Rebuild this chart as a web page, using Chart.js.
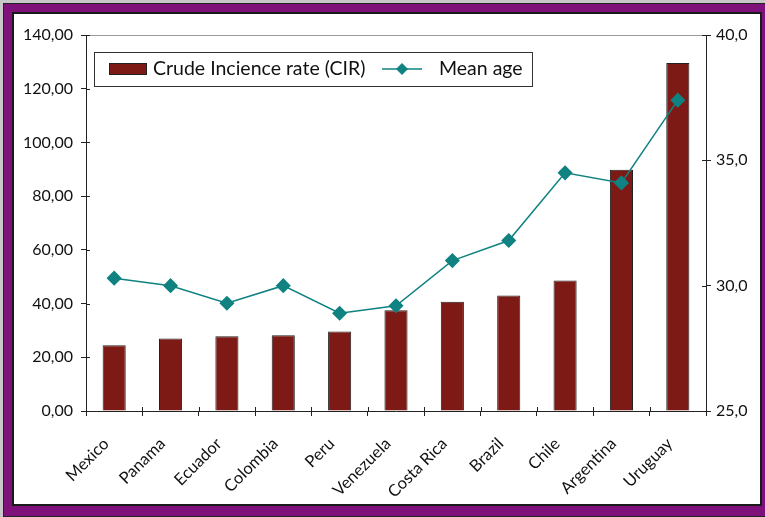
<!DOCTYPE html>
<html>
<head>
<meta charset="utf-8">
<script src="https://cdn.jsdelivr.net/npm/chart.js@4.4.0/dist/chart.umd.min.js"></script>
<style>
    body { margin: 0; background: #c8c8c8; width: 765px; height: 517px; overflow: hidden; position: relative; }
    #frame { position: absolute; left: 3px; top: 3px; width: 770px; height: 512px; background: #7f117a; border: 1px solid #222; }
    #panel { position: absolute; left: 12px; top: 12px; width: 746px; height: 490px; background: #fff; border: 2px solid #1a1a1a; }
    #chart-wrap { position: absolute; left: 14px; top: 14px; width: 746px; height: 490px; }
</style>
</head>
<body>
<div id="frame"></div>
<div id="panel"></div>
<div id="chart-wrap"><canvas id="chart"></canvas></div>
<script>
// data
const countries = ['Mexico', 'Panama', 'Ecuador', 'Colombia', 'Peru', 'Venezuela', 'Costa Rica', 'Brazil', 'Chile', 'Argentina', 'Uruguay'];
const cirValues = [24.5, 27.0, 27.8, 28.2, 29.6, 37.5, 40.7, 43.0, 48.6, 89.8, 129.6];
const meanAge = [30.3, 30.0, 29.3, 30.0, 28.9, 29.2, 31.0, 31.8, 34.5, 34.1, 37.4];
const leftTicks = [0, 20, 40, 60, 80, 100, 120, 140];
const rightTicks = [25, 30, 35, 40];

const FONT = 'Lato, "Open Sans", sans-serif';
const barColor = '#7e1a15';
const lineColor = '#0f8281';

// legend box inside the plot + small inward tick stubs
const boxLegend = {
    id: 'boxLegend',
    afterDraw(chart) {
        const ctx = chart.ctx;
        const a = chart.chartArea;
        ctx.save();

        // grey top border of plot area
        ctx.strokeStyle = '#9a9a9a';
        ctx.lineWidth = 1;
        ctx.beginPath();
        ctx.moveTo(a.left, a.top + 0.5);
        ctx.lineTo(a.right, a.top + 0.5);
        ctx.stroke();

        // tick marks cross the axis lines
        ctx.strokeStyle = '#222';
        ctx.beginPath();
        chart.scales.y.ticks.forEach(t => {
            const py = Math.round(chart.scales.y.getPixelForValue(t.value)) + 0.5;
            ctx.moveTo(a.left, py);
            ctx.lineTo(a.left + 4, py);
        });
        chart.scales.y2.ticks.forEach(t => {
            const py = Math.round(chart.scales.y2.getPixelForValue(t.value)) + 0.5;
            ctx.moveTo(a.right, py);
            ctx.lineTo(a.right - 4, py);
        });
        for (let i = 0; i <= countries.length; i++) {
            const px = Math.round(a.left + i * (a.right - a.left) / countries.length) + 0.5;
            ctx.moveTo(px, a.bottom);
            ctx.lineTo(px, a.bottom - 4);
        }
        ctx.stroke();

        // legend
        const barSet = chart.data.datasets[1];
        const lineSet = chart.data.datasets[0];
        ctx.fillStyle = '#fff';
        ctx.fillRect(80, 38, 438, 34);
        ctx.strokeStyle = '#333';
        ctx.strokeRect(80.5, 38.5, 438, 34);

        ctx.fillStyle = barColor;
        ctx.fillRect(95, 49, 37, 11);
        ctx.strokeStyle = '#222';
        ctx.strokeRect(95.5, 49.5, 37, 11);

        ctx.fillStyle = '#111';
        ctx.font = '19.5px ' + FONT;
        ctx.textBaseline = 'middle';
        ctx.fillText(barSet.label, 139, 55);

        ctx.strokeStyle = lineColor;
        ctx.lineWidth = 1.5;
        ctx.beginPath();
        ctx.moveTo(368, 55);
        ctx.lineTo(408, 55);
        ctx.stroke();
        ctx.fillStyle = lineColor;
        ctx.beginPath();
        ctx.moveTo(388, 49);
        ctx.lineTo(394, 55);
        ctx.lineTo(388, 61);
        ctx.lineTo(382, 55);
        ctx.closePath();
        ctx.fill();

        ctx.fillStyle = '#111';
        ctx.fillText(lineSet.label, 425, 55);
        ctx.restore();
    }
};

const ctx = document.getElementById('chart').getContext('2d');
new Chart(ctx, {
    type: 'bar',
    data: {
        labels: countries,
        datasets: [{
            type: 'line',
            label: 'Mean age',
            data: meanAge,
            yAxisID: 'y2',
            borderColor: lineColor,
            backgroundColor: lineColor,
            borderWidth: 1.5,
            pointStyle: 'rectRot',
            pointRadius: 6.5,
            pointHoverRadius: 6.5,
            tension: 0,
            order: 0
        }, {
            label: 'Crude Incience rate (CIR)',
            data: cirValues,
            yAxisID: 'y',
            backgroundColor: barColor,
            borderColor: '#222',
            borderWidth: 1,
            categoryPercentage: 0.82,
            barPercentage: 0.5,
            order: 1
        }]
    },
    options: {
        responsive: true,
        maintainAspectRatio: false,
        animation: false,
        events: [],
        layout: { padding: { top: 21 } },
        plugins: {
            legend: { display: false },
            tooltip: { enabled: false }
        },
        scales: {
            x: {
                offset: true,
                grid: { offset: true, drawOnChartArea: false, drawTicks: true, tickLength: 5, color: '#222' },
                border: { color: '#222', width: 1 },
                ticks: {
                    color: '#111',
                    font: { family: FONT, size: 16.5 },
                    minRotation: 45,
                    maxRotation: 45,
                    padding: 18,
                    labelOffset: -8,
                    autoSkip: false
                },
                afterFit(scale) { scale.height = 93; }
            },
            y: {
                position: 'left',
                min: 0,
                max: 140,
                afterBuildTicks(scale) { scale.ticks = leftTicks.map(v => ({ value: v })); },
                grid: { drawOnChartArea: false, tickLength: 5, color: '#222' },
                border: { color: '#222', width: 1 },
                ticks: {
                    color: '#111',
                    font: { family: FONT, size: 16 },
                    padding: 8,
                    callback: v => v.toFixed(2).replace('.', ',')
                },
                afterFit(scale) { scale.width = 72; }
            },
            y2: {
                position: 'right',
                min: 25,
                max: 40,
                afterBuildTicks(scale) { scale.ticks = rightTicks.map(v => ({ value: v })); },
                grid: { drawOnChartArea: false, tickLength: 5, color: '#222' },
                border: { color: '#222', width: 1 },
                ticks: {
                    color: '#111',
                    font: { family: FONT, size: 16 },
                    padding: 5,
                    callback: v => v.toFixed(1).replace('.', ',')
                },
                afterFit(scale) { scale.width = 54; }
            }
        }
    },
    plugins: [boxLegend]
});
</script>
</body>
</html>
